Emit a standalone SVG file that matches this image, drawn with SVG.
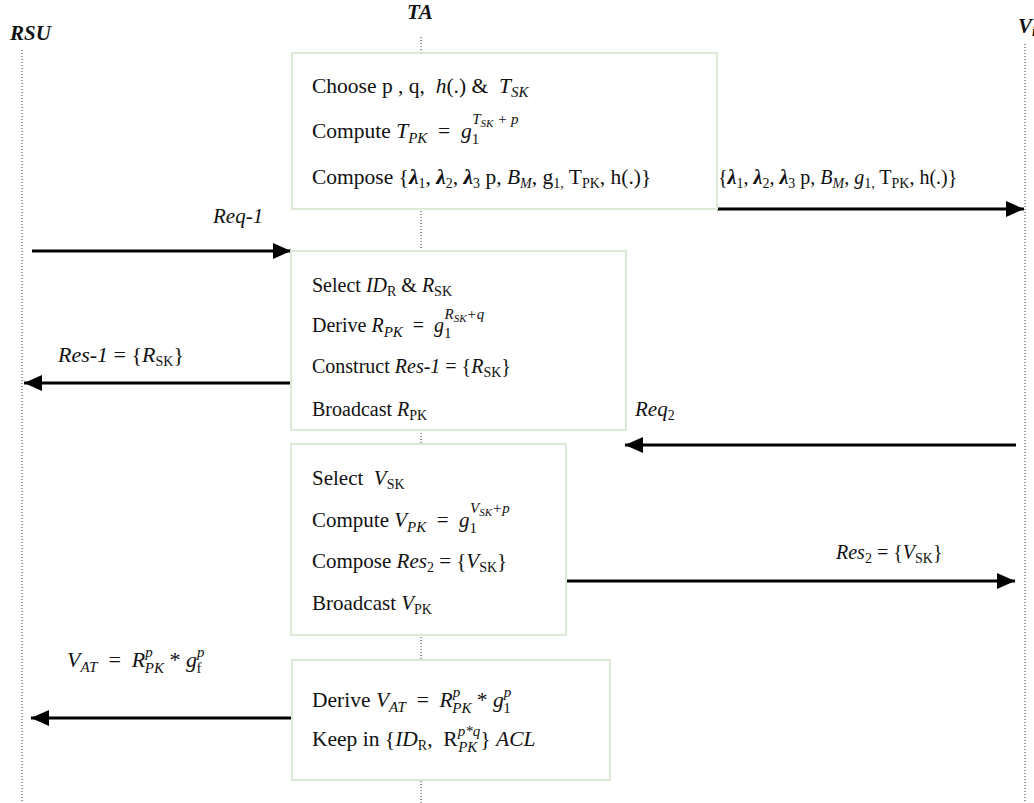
<svg xmlns="http://www.w3.org/2000/svg" width="1034" height="803" viewBox="0 0 1034 803" font-family="'Liberation Serif', 'DejaVu Serif', serif" xml:space="preserve">
<style>
text{font-family:"Liberation Serif","DejaVu Serif",serif;fill:#111;font-size:21.5px;white-space:pre}
.i{font-style:italic}
.b{font-weight:bold}
.s{font-size:14px}
.sp{font-size:15px}
.ss{font-size:11px}
.m{font-size:20px}
.n{font-size:21px}
.hd{font-weight:bold;font-style:italic;font-size:21px}
.life{stroke:#777;stroke-width:1.5;stroke-dasharray:1 2;fill:none}
.box{fill:#fff;stroke:#dbe9d5;stroke-width:2}
.msg{stroke:#000;stroke-width:3;fill:none}
</style>
<defs>
<marker id="ah" markerUnits="userSpaceOnUse" markerWidth="20" markerHeight="16" refX="18" refY="8" orient="auto">
<path d="M0,0 L18,8 L0,16 Z" fill="#000"/>
</marker>
</defs>
<rect width="1034" height="803" fill="#fff"/>
<g id="lifelines">
<line class="life" x1="22" y1="50" x2="22" y2="803"/>
<line class="life" x1="421" y1="37" x2="421" y2="803"/>
<line class="life" x1="1025" y1="44" x2="1025" y2="803"/>
<text x="10" y="40" class="hd">RSU</text>
<text x="407" y="19" class="hd">TA</text>
<text x="1018" y="33" class="hd">V<tspan class="s" dy="3">i</tspan></text>
</g>
<g id="connectors">
<line class="msg" x1="717" y1="209" x2="1024" y2="209" marker-end="url(#ah)"/>
<line class="msg" x1="32" y1="251" x2="291" y2="251" marker-end="url(#ah)"/>
<line class="msg" x1="291" y1="383" x2="24" y2="383" marker-end="url(#ah)"/>
<line class="msg" x1="1016" y1="445" x2="625" y2="445" marker-end="url(#ah)"/>
<line class="msg" x1="566" y1="581" x2="1015" y2="581" marker-end="url(#ah)"/>
<line class="msg" x1="292" y1="718" x2="31" y2="718" marker-end="url(#ah)"/>
<text x="718" y="184" style="font-size:20px">{<tspan class="b i">λ</tspan><tspan class="s" dy="4">1</tspan><tspan dy="-4">, </tspan><tspan class="b i">λ</tspan><tspan class="s" dy="4">2</tspan><tspan dy="-4">, </tspan><tspan class="b i">λ</tspan><tspan class="s" dy="4">3</tspan><tspan dy="-4"> p, </tspan><tspan class="i">B</tspan><tspan class="s i" dy="4">M</tspan><tspan dy="-4">, </tspan><tspan class="i">g</tspan><tspan class="s" dy="4">1,</tspan><tspan dy="-4"> T</tspan><tspan class="s" dy="4">PK</tspan><tspan dy="-4">, h(.)}</tspan></text>
<text x="213" y="223" class="i n">Req-1</text>
<text x="58" y="362" style="font-size:22px"><tspan class="i">Res-1</tspan> = {<tspan class="i">R</tspan><tspan class="s" dy="4">SK</tspan><tspan dy="-4">}</tspan></text>
<text x="635" y="416" class="i n">Req<tspan class="s" style="font-style:normal" dy="4">2</tspan></text>
<text x="836" y="559" style="font-size:20px"><tspan class="i">Res</tspan><tspan class="s" dy="4">2</tspan><tspan dy="-4"> = {</tspan><tspan class="i">V</tspan><tspan class="s" dy="4">SK</tspan><tspan dy="-4">}</tspan></text>
<text x="67" y="667" style="font-size:22px"><tspan class="i">V</tspan><tspan class="sp i" dy="5">AT</tspan><tspan dy="-5">  =  </tspan><tspan class="i">R</tspan><tspan class="sp i" dy="-10">p</tspan><tspan class="sp i" dx="-8" dy="16">PK</tspan><tspan dy="-6"> * </tspan><tspan class="i">g</tspan><tspan class="sp i" dy="-10">p</tspan><tspan class="sp" dx="-8" dy="16">f</tspan></text>
</g>
<g id="box1">
<rect class="box" x="292" y="53" width="425" height="156"/>
<text x="312" y="93">Choose p , q,  <tspan class="i">h</tspan>(.) &amp;  <tspan class="i">T</tspan><tspan class="sp i" dy="4">SK</tspan></text>
<text x="312" y="138">Compute <tspan class="i">T</tspan><tspan class="sp i" dy="5">PK</tspan><tspan dy="-5">  =  </tspan><tspan class="i">g</tspan><tspan class="sp" dy="6">1</tspan><tspan class="sp i" dx="-7" dy="-20">T</tspan><tspan class="ss i" dy="3">SK</tspan><tspan class="sp i" dy="-3"> + p</tspan></text>
<text x="312" y="184">Compose {<tspan class="b i">λ</tspan><tspan class="s" dy="4">1</tspan><tspan dy="-4">, </tspan><tspan class="b i">λ</tspan><tspan class="s" dy="4">2</tspan><tspan dy="-4">, </tspan><tspan class="b i">λ</tspan><tspan class="s" dy="4">3</tspan><tspan dy="-4"> p, </tspan><tspan class="i">B</tspan><tspan class="s i" dy="4">M</tspan><tspan dy="-4">, g</tspan><tspan class="s" dy="4">1,</tspan><tspan dy="-4"> T</tspan><tspan class="s" dy="4">PK</tspan><tspan dy="-4">, h(.)}</tspan></text>
</g>
<g id="box2">
<rect class="box" x="291" y="251" width="335" height="179"/>
<text x="312" y="292" class="m">Select <tspan class="i">ID</tspan><tspan class="s" dy="4">R</tspan><tspan dy="-4"> &amp; </tspan><tspan class="i">R</tspan><tspan class="s" dy="4">SK</tspan></text>
<text x="312" y="332" class="m">Derive <tspan class="i">R</tspan><tspan class="sp i" dy="5">PK</tspan><tspan dy="-5">  =  </tspan><tspan class="i">g</tspan><tspan class="sp" dy="6">1</tspan><tspan class="sp i" dx="-7" dy="-19">R</tspan><tspan class="ss i" dy="3">SK</tspan><tspan class="sp i" dy="-3">+q</tspan></text>
<text x="312" y="373" class="m">Construct <tspan class="i">Res-1</tspan> = {<tspan class="i">R</tspan><tspan class="s" dy="4">SK</tspan><tspan dy="-4">}</tspan></text>
<text x="312" y="416" class="m">Broadcast <tspan class="i">R</tspan><tspan class="s" dy="4">PK</tspan></text>
</g>
<g id="box3">
<rect class="box" x="291" y="444" width="275" height="191"/>
<text x="312" y="485" class="n">Select  <tspan class="i">V</tspan><tspan class="s" dy="4">SK</tspan></text>
<text x="312" y="527" class="n">Compute <tspan class="i">V</tspan><tspan class="sp i" dy="5">PK</tspan><tspan dy="-5">  =  </tspan><tspan class="i">g</tspan><tspan class="sp" dy="6">1</tspan><tspan class="sp i" dx="-7" dy="-20">V</tspan><tspan class="ss i" dy="3">SK</tspan><tspan class="sp i" dy="-3">+p</tspan></text>
<text x="312" y="568" class="n">Compose <tspan class="i">Res</tspan><tspan class="s" dy="4">2</tspan><tspan dy="-4"> = {</tspan><tspan class="i">V</tspan><tspan class="s" dy="4">SK</tspan><tspan dy="-4">}</tspan></text>
<text x="312" y="610" class="n">Broadcast <tspan class="i">V</tspan><tspan class="s" dy="4">PK</tspan></text>
</g>
<g id="box4">
<rect class="box" x="292" y="660" width="318" height="120"/>
<text x="312" y="707">Derive <tspan class="i">V</tspan><tspan class="sp i" dy="5">AT</tspan><tspan dy="-5">  =  </tspan><tspan class="i">R</tspan><tspan class="sp i" dy="-10">p</tspan><tspan class="sp i" dx="-8" dy="16">PK</tspan><tspan dy="-6"> * </tspan><tspan class="i">g</tspan><tspan class="sp i" dy="-10">p</tspan><tspan class="sp" dx="-8" dy="16">1</tspan></text>
<text x="312" y="746">Keep in {<tspan class="i">ID</tspan><tspan class="s" dy="4">R</tspan><tspan dy="-4">,  R</tspan><tspan class="sp i" dy="-10">p*q</tspan><tspan class="sp i" dx="-22" dy="16">PK</tspan><tspan dx="3" dy="-6">} </tspan><tspan class="i">ACL</tspan></text>
</g>
</svg>
